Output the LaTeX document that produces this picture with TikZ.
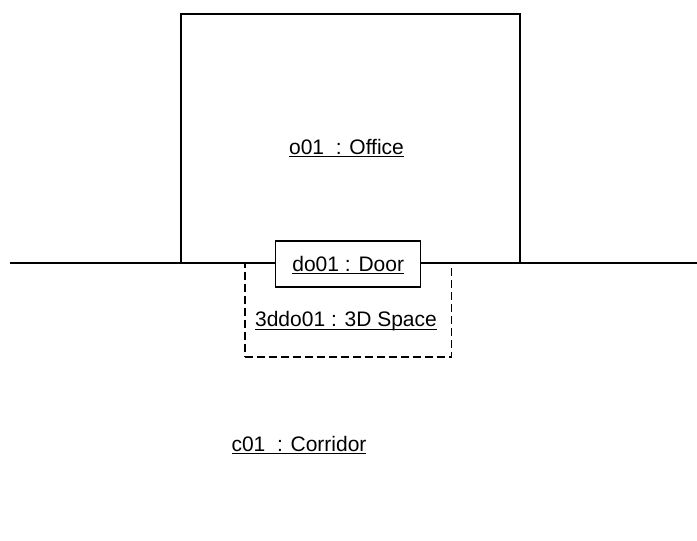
\documentclass[tikz,border=0pt]{standalone}
\usepackage{fontspec}
\setmainfont{Liberation Sans}
\newcommand\myul[1]{\setbox0\hbox{#1}\rlap{\rule[-3.2pt]{\wd0}{1pt}}\box0}
\begin{document}
\begin{tikzpicture}[x=1pt,y=-1pt,
  box/.style={draw,line width=1.3pt,rectangle,inner sep=0pt},
  lbl/.style={font=\fontsize{21}{24}\selectfont,inner sep=0pt}]
\useasboundingbox (0,0) rectangle (697,541);
\node[box,dash pattern=on 8pt off 4pt,minimum width=206.5pt,minimum height=94pt] (space) at (348.3,310) {};
\node[box,minimum width=339pt,minimum height=249pt] (office) at (350.5,138.5) {};
\coordinate (lL) at (10,263);
\coordinate (lR) at (697,263);
\draw[line width=1.3pt] (lL) -- (lR);
\node[box,fill=white,minimum width=145pt,minimum height=46pt] (door) at (348.2,264) {};
\node[lbl] (officeT) at (346.5,148) {\myul{o01\ \ : Office}};
\node[lbl] (doorT) at ([yshift=-1pt]door.center) {\myul{do01 : Door}};
\node[lbl] (spaceT) at (346,321) {\myul{3ddo01 : 3D Space}};
\node[lbl] (corrT) at (299,445) {\myul{c01\ \ : Corridor}};
\end{tikzpicture}
\end{document}
